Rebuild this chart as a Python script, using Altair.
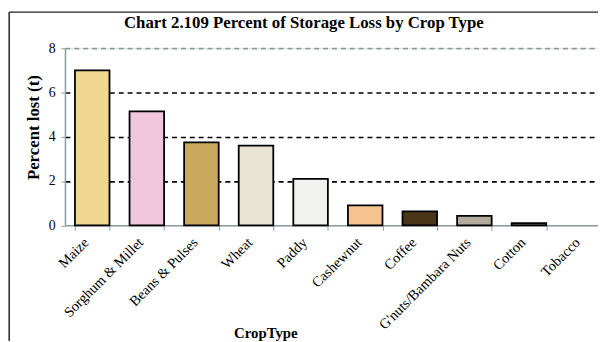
import altair as alt
import pandas as pd

crops = ["Maize", "Sorghum & Millet", "Beans & Pulses", "Wheat", "Paddy",
         "Cashewnut", "Coffee", "G'nuts/Bambara Nuts", "Cotton", "Tobacco"]
values = [7.0, 5.15, 3.75, 3.6, 2.1, 0.9, 0.63, 0.43, 0.1, 0.0]
colors = ["#EFD790", "#F0C6DC", "#C9A95C", "#E9E5D5", "#F1F1EE",
          "#F6C393", "#4B3519", "#B3AB9E", "#6E6E6E", "#CCCCCC"]
y_ticks = [0, 2, 4, 6, 8]

df = pd.DataFrame({"crop": crops, "value": values})

FONT = "Liberation Serif"
W, H = 540, 179.5

bars = alt.Chart(df).mark_bar(stroke="black", strokeWidth=1.8).encode(
    x=alt.X("crop:N", sort=crops,
            scale=alt.Scale(range=[0, 553], paddingInner=0.367, paddingOuter=0.183),
            axis=alt.Axis(title="CropType", labelAngle=-45, labelAlign="right",
                          labelBaseline="middle", labelFont=FONT, labelFontSize=14.5,
                          labelColor="black", labelPadding=10, labelOffset=-6,
                          tickBand="extent",
                          tickSize=5, tickColor="#8c9c9c", domainColor="#8c9c9c",
                          domainWidth=1.5, titleFont=FONT, titleFontSize=15,
                          titleFontWeight="bold", titleColor="black",
                          titleX=203, titleY=114, titleAlign="center",
                          titleBaseline="alphabetic", grid=False, labelOverlap=False)),
    y=alt.Y("value:Q",
            scale=alt.Scale(domain=[0, 8], nice=False),
            axis=alt.Axis(title="Percent lost (t)", values=y_ticks, labelFont=FONT,
                          labelFontSize=14, labelColor="black", tickSize=4,
                          tickColor="#8c9c9c", domainColor="#8c9c9c", domainWidth=1.5,
                          labelPadding=6, titleFont=FONT, titleFontSize=17,
                          titleFontWeight="bold", titleColor="black",
                          titleX=-27, titleY=80, titleAlign="center",
                          titleBaseline="alphabetic", titleAngle=270,
                          grid=True, gridDash=[5, 4], gridWidth=1.6,
                          gridColor={"condition": [
                              {"test": "datum.value == 8", "value": "#8c9c9c"},
                              {"test": "datum.value == 0", "value": "transparent"}],
                              "value": "black"})),
    color=alt.Color("crop:N", sort=crops,
                    scale=alt.Scale(domain=crops, range=colors), legend=None),
    strokeOpacity=alt.condition(alt.datum.value > 0, alt.value(1), alt.value(0)),
)

frame_data = alt.Data(values=[{"k": 1}])
frame_left = alt.Chart(frame_data).mark_rule(color="#222", strokeWidth=1.5).encode(
    x=alt.value(-56.5), y=alt.value(-36.5), y2=alt.value(300))
frame_top = alt.Chart(frame_data).mark_rule(color="#222", strokeWidth=1.5).encode(
    x=alt.value(-56.5), x2=alt.value(600), y=alt.value(-36.5))

chart = alt.layer(bars, frame_left, frame_top).properties(
    width=W, height=H,
    title=alt.TitleParams("Chart  2.109 Percent of Storage Loss by Crop Type",
                          font=FONT, fontSize=17, fontWeight="bold", color="black",
                          anchor="middle", dx=-28, dy=34, offset=0,
                          baseline="alphabetic"),
    autosize=alt.AutoSizeParams(type="none"),
    padding={"left": 57.7, "top": 38.5, "right": 0, "bottom": 115},
).configure_view(stroke=None).configure(background="white")

chart.save("out.html", embed_options={"renderer": "svg", "actions": False})
